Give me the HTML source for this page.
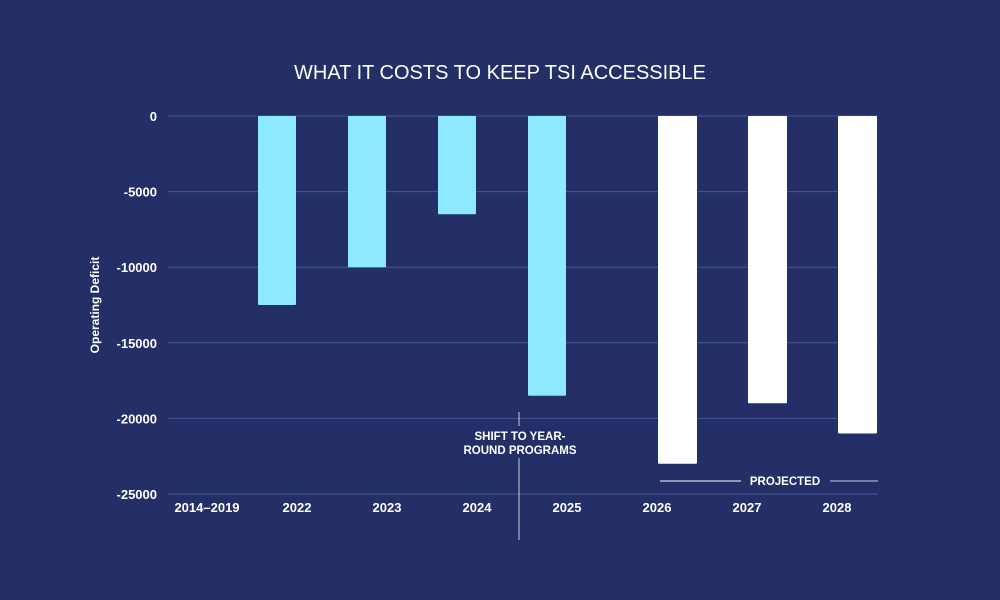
<!DOCTYPE html>
<html><head><meta charset="utf-8"><style>
body{margin:0;background:#232f66;}
svg{display:block;font-family:"Liberation Sans",sans-serif;}
</style></head><body>
<svg id="chart" width="1000" height="600">
<rect width="1000" height="600" fill="#232f66"/>
<text x="500" y="79" text-anchor="middle" fill="#fff" font-size="20">WHAT IT COSTS TO KEEP TSI ACCESSIBLE</text>
<text transform="translate(99,305) rotate(-90)" text-anchor="middle" fill="#fff" font-size="12" font-weight="bold">Operating Deficit</text>
<g id="grid"></g><g id="bars"></g><g id="xlabels"></g>
<line x1="519" y1="412" x2="519" y2="426" stroke="#ccd" stroke-width="1"/>
<line x1="519" y1="458" x2="519" y2="540" stroke="#ccd" stroke-width="1"/>
<text x="520" y="440" text-anchor="middle" fill="#fff" font-size="11.5" font-weight="bold">SHIFT TO YEAR-</text>
<text x="520" y="454" text-anchor="middle" fill="#fff" font-size="11.5" font-weight="bold">ROUND PROGRAMS</text>
<line x1="660" y1="481" x2="741" y2="481" stroke="#fff"/>
<text x="785" y="485" text-anchor="middle" fill="#fff" font-size="11.5" font-weight="bold">PROJECTED</text>
<line x1="830" y1="481" x2="878" y2="481" stroke="#ccd"/>
</svg>
<script>
const categories=["2014–2019","2022","2023","2024","2025","2026","2027","2028"];
const actualValues=[0,-12500,-10000,-6500,-18500,null,null,null];
const projectedValues=[null,null,null,null,null,-23000,-19000,-21000];
const yTicks=[0,-5000,-10000,-15000,-20000,-25000];
const NS="http://www.w3.org/2000/svg";
function y(v){return 116+(0-v)/25000*378;}
function xc(i){return 207+i*90;}
function mk(t,a,p){const e=document.createElementNS(NS,t);for(const k in a)e.setAttribute(k,a[k]);p.appendChild(e);return e;}
const grid=document.getElementById('grid'),bars=document.getElementById('bars'),xl=document.getElementById('xlabels');
yTicks.forEach(t=>{
 const l=mk('line',{x1:168,x2:878,y1:y(t),y2:y(t),stroke:'#4a5694','stroke-width':1},grid);
 
 
 const tx=mk('text',{x:157,y:y(t)+5,'text-anchor':'end',fill:'#fff','font-size':13,'font-weight':'bold'},grid);
 tx.textContent=t;
 
 
});
categories.forEach((c,i)=>{
 const tx=mk('text',{x:xc(i),y:512,'text-anchor':'middle',fill:'#fff','font-size':13,'font-weight':'bold'},xl);
 tx.textContent=c;
 
 
 const a=actualValues[i];
 if(a!==null&&a!==0){
  const r=mk('rect',{x:xc(i)-39,y:y(0),width:38,height:y(a)-y(0),fill:'#8de9ff',rx:1},bars);
  
  
 }
 const p=projectedValues[i];
 if(p!==null){
  const r=mk('rect',{x:xc(i)+1,y:y(0),width:39,height:y(p)-y(0),fill:'#ffffff',rx:1},bars);
  
  
 }
});
</script>
</body></html>
